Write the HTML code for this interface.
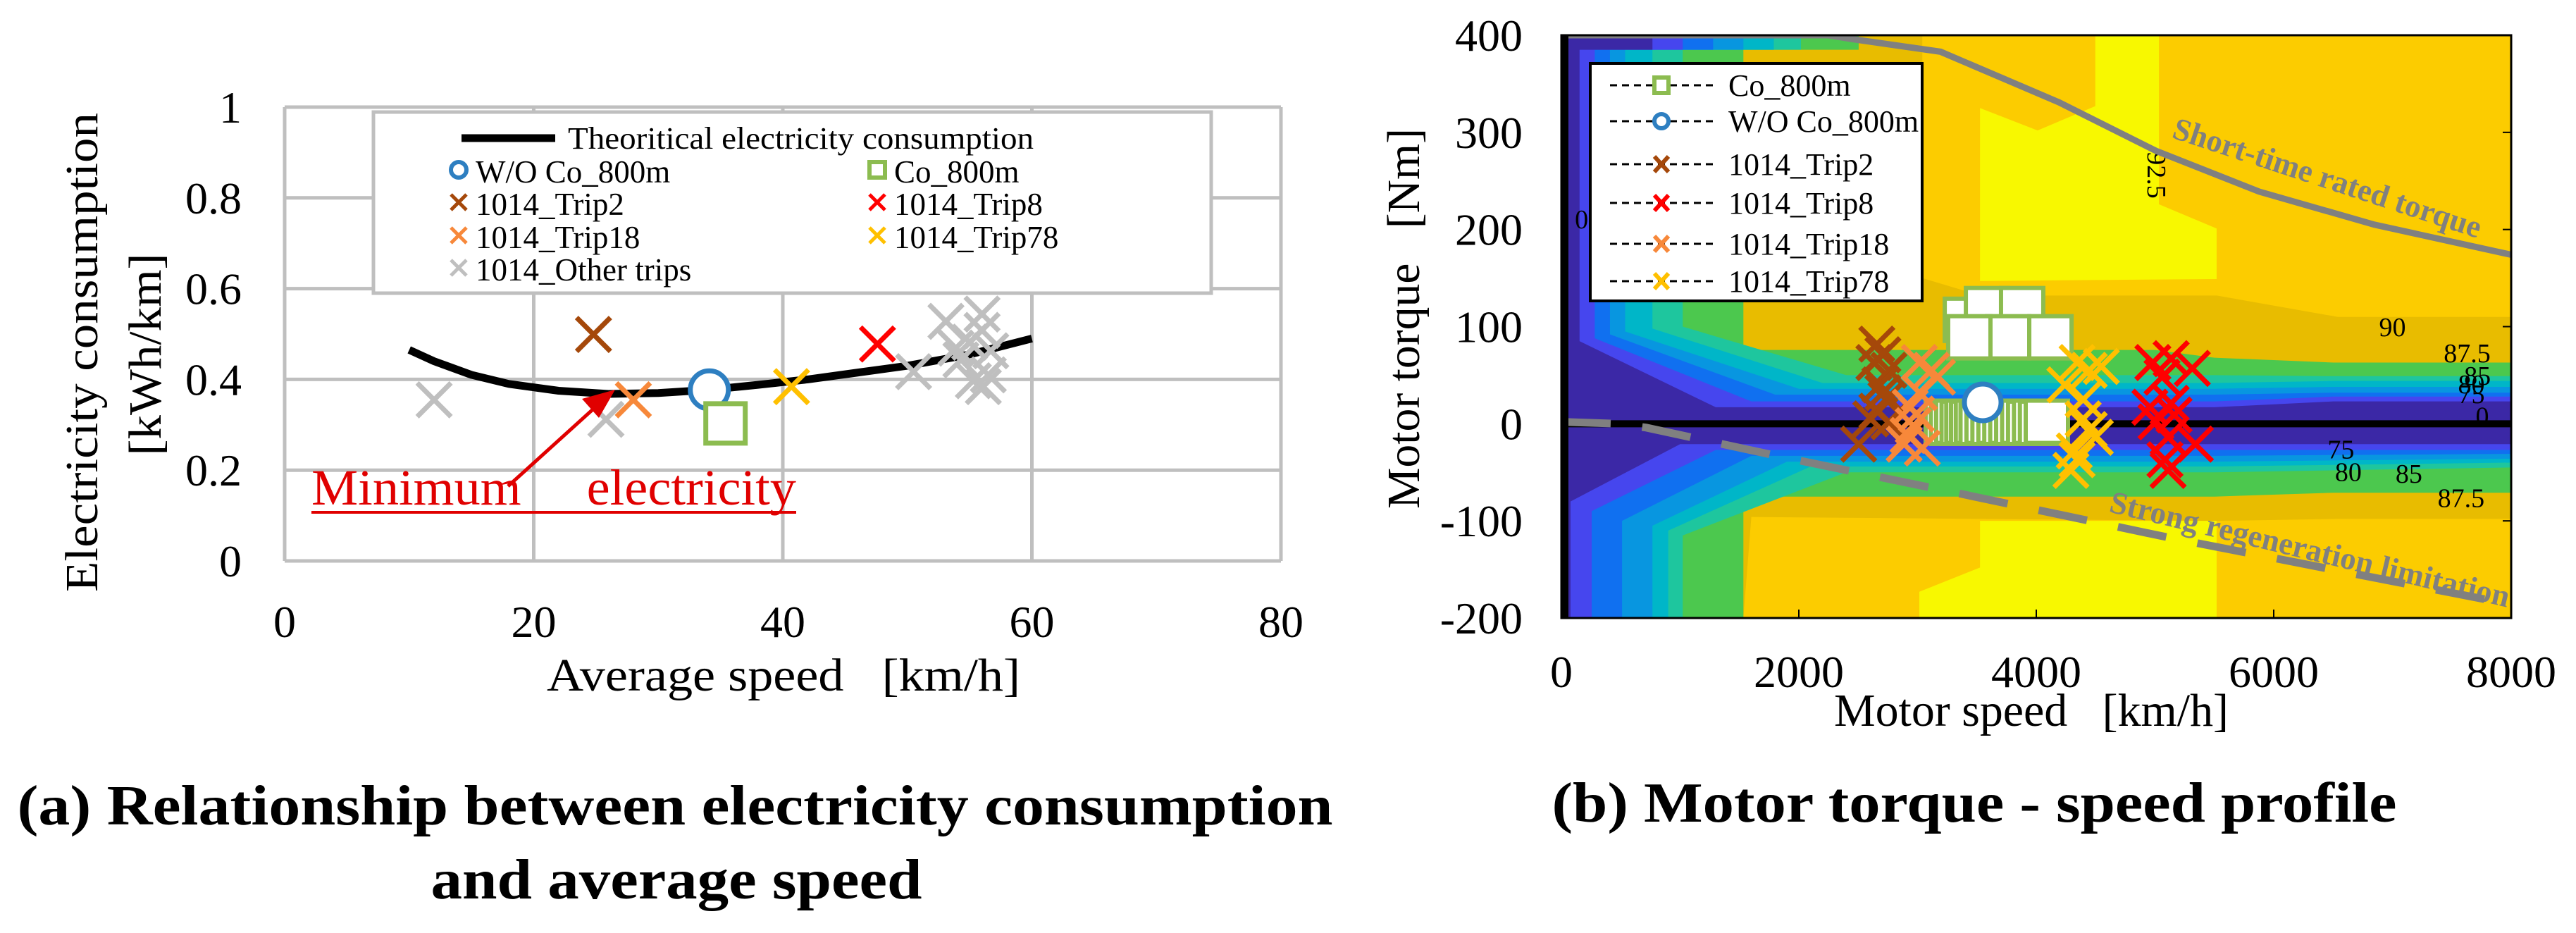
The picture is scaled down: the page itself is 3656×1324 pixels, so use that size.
<!DOCTYPE html>
<html><head><meta charset="utf-8"><style>
html,body{margin:0;padding:0;background:#fff;}
svg{display:block;font-family:"Liberation Serif",serif;}
svg text{font-family:"Liberation Serif",serif;}
</style></head><body>
<svg id="fig" width="3656" height="1324" viewBox="0 0 3656 1324" xmlns="http://www.w3.org/2000/svg" font-family="Liberation Serif, serif">
<defs><clipPath id="mapclip"><rect x="2216" y="50" width="1348" height="827"/></clipPath></defs>
<rect x="0" y="0" width="3656" height="1324" fill="#fff"/>
<g id="left"></g>
<g id="right">
  <g id="map" clip-path="url(#mapclip)"></g>
</g>
<text x="958" y="1170" font-size="80" font-weight="bold" text-anchor="middle" textLength="1867" lengthAdjust="spacingAndGlyphs">(a) Relationship between electricity consumption</text>
<text x="960" y="1275" font-size="80" font-weight="bold" text-anchor="middle" textLength="697" lengthAdjust="spacingAndGlyphs">and average speed</text>
<text x="2802" y="1166" font-size="80" font-weight="bold" text-anchor="middle" textLength="1199" lengthAdjust="spacingAndGlyphs">(b) Motor torque - speed profile</text>
<text x="1112" y="980" font-size="66" text-anchor="middle" textLength="672" lengthAdjust="spacingAndGlyphs" style="white-space:pre">Average speed   [km/h]</text>
<text transform="translate(138,500) rotate(-90)" font-size="66" text-anchor="middle" textLength="680" lengthAdjust="spacingAndGlyphs">Electricity consumption</text>
<text transform="translate(228,503) rotate(-90)" font-size="66" text-anchor="middle" textLength="287" lengthAdjust="spacingAndGlyphs">[kWh/km]</text>
<text x="2883" y="1030" font-size="66" text-anchor="middle" textLength="560" lengthAdjust="spacingAndGlyphs" style="white-space:pre">Motor speed   [km/h]</text>
<text transform="translate(2014,452) rotate(-90)" font-size="66" text-anchor="middle" textLength="540" lengthAdjust="spacingAndGlyphs" style="white-space:pre">Motor torque   [Nm]</text>
</svg>
<script>
const NS='http://www.w3.org/2000/svg';
// ---------- LEFT CHART DATA ----------
const speedTicks=[0,20,40,60,80];
const consTicks=[0,0.2,0.4,0.6,0.8,1];
const consTickLabels=['0','0.2','0.4','0.6','0.8','1'];
const curveSpeed=[10,12,15,18,22,26,30,34,38,42,46,50,55,60];
const curveCons=[0.465,0.44,0.41,0.39,0.375,0.368,0.370,0.377,0.388,0.40,0.415,0.43,0.455,0.49];
const woSpeed=[34.1]; const woCons=[0.377];
const coSpeed=[35.4]; const coCons=[0.303];
const trip2Speed=[24.8]; const trip2Cons=[0.499];
const trip8Speed=[47.6]; const trip8Cons=[0.478];
const trip18Speed=[28]; const trip18Cons=[0.355];
const trip78Speed=[40.7]; const trip78Cons=[0.384];
const otherSpeed=[12,25.8,50.5,53.1,56,55,54.3,56,55.3,56.5,56.1,53.9,56.7];
const otherCons=[0.355,0.312,0.417,0.528,0.544,0.482,0.443,0.508,0.397,0.41,0.384,0.469,0.463];
// ---------- RIGHT CHART DATA ----------
const rpmTicks=[0,2000,4000,6000,8000];
const torqueTicks=[400,300,200,100,0,-100,-200];
const levelColors=['#3b28a6','#4646ee','#1070f0','#0896e0','#00b6c8','#1ec69e','#4cc84e','#e8bc00'];
const bandUpper=[
 [[767,400],[767,385],[153,385],[153,85],[1300,17],[5500,17],[6500,23],[8000,23]],
 [[1022,400],[1022,385],[281,385],[281,88],[1600,23],[5500,23],[6500,28],[8000,28]],
 [[1278,400],[1278,385],[409,385],[409,92],[1800,30],[5500,30],[6500,32],[8000,32]],
 [[1533,400],[1533,385],[537,385],[537,95],[2000,36],[5500,36],[6500,38],[8000,38]],
 [[1789,400],[1789,385],[767,385],[767,98],[2200,42],[5500,42],[6500,44],[8000,44]],
 [[2018,400],[2018,385],[1022,385],[1022,100],[2400,50],[5500,50],[6500,49],[8000,49]],
 [[2504,400],[2504,385],[1533,385],[1533,76],[5000,76],[5500,68],[6500,63],[8000,63]],
 [[3040,400],[3040,150],[3530,132],[5520,132],[6540,110],[8000,110]]
];
const bandLower=[
 [[8000,-21],[5500,-21],[1000,-21],[77,-80],[77,-200]],
 [[8000,-27],[5500,-27],[1300,-27],[255,-90],[255,-200]],
 [[8000,-31],[5500,-33],[1600,-33],[511,-100],[511,-200]],
 [[8000,-36],[5500,-39],[1900,-39],[767,-105],[767,-200]],
 [[8000,-40],[5500,-44],[2100,-44],[900,-110],[900,-200]],
 [[8000,-45],[5500,-50],[2400,-50],[1022,-115],[1022,-200]],
 [[8000,-71],[6500,-71],[5500,-75],[1533,-75],[1533,-200]],
 [[8000,-98],[6540,-98],[5520,-100],[1600,-96],[1533,-200]]
];
const yellowTop=[[3526,325],[4011,302],[4497,327],[4497,400],[5033,400],[5033,226],[5519,201],[5519,149],[3526,147]];
const yellowBottom=[[3015,-200],[3015,-173],[3526,-148],[3526,-100],[5519,-100],[5519,-200]];
const ratedRpm=[0,2248,2453,3194,4190,5008,5877,6847,8000];
const ratedTorque=[400,400,396,383,331,281,239,205,174];
const regenRpm=[0,485,715,1890,3321,5110,8000];
const regenTorque=[2,0,-4,-35,-71,-117,-186];
const contourText=['90','87.5','85','80','75','0','75','80','85','87.5','92.5','0'];
const contourRpm=[7000,7629,7716,7665,7665,7757,6566,6628,7139,7578,5008,170];
const contourTorque=[99,72,49,40,30,7,-27,-50,-52,-77,256,210];
const coRpm=[3407,3585,3881,3763,4119,3436,3246,3290,3335,3380,3420,3460,3500,3540,3590,3640,3690,3740,3790,3840,3890,3940,3990,4040,4089];
const coTorque=[107,118,118,89,89,89,2,1,2,1,2,1,2,1,2,1,2,1,2,1,2,1,2,1,2];
const woRpm=[3549]; const woTorque=[22];
const t2Rpm=[2504,2657,2708,2632,2759,2683,2734,2657,2759,2606,2708];
const t2Torque=[-21,82,71,63,55,40,25,13,2,5,32];
const t18Rpm=[3015,3117,2938,3015,2964,2887,3040,3168,2990,2920];
const t18Torque=[63,55,17,32,-2,-21,-25,48,10,-12];
const t78Rpm=[4344,4446,4548,4241,4395,4446,4497,4344,4292,4395,4320];
const t78Torque=[63,55,59,40,25,-6,-14,-37,-48,5,-28];
const t8Rpm=[4982,5136,5314,5059,4957,5136,5008,5161,5110,5340,5084,5110];
const t8Torque=[63,67,57,48,17,21,2,9,-14,-21,-37,-48];

function el(tag,attrs,parent){const e=document.createElementNS(NS,tag);for(const k in attrs)e.setAttribute(k,attrs[k]);parent.appendChild(e);return e;}
const L=document.getElementById('left');
const R=document.getElementById('right');
const M=document.getElementById('map');
const lx=v=>404+v*(1818-404)/80;
const ly=v=>796-v*(796-152);
const rx=r=>2216+r*(3564-2216)/8000;
const ry=t=>50+(400-t)*(877-50)/600;

function xMark(parent,cx,cy,s,color,w,name){
  const p=el('path',{d:`M${cx-s},${cy-s}L${cx+s},${cy+s}M${cx+s},${cy-s}L${cx-s},${cy+s}`,stroke:color,'stroke-width':w,fill:'none'},parent);
  
  
  return p;
}
// ---------- LEFT ----------
speedTicks.forEach(v=>{
  const g=el('line',{x1:lx(v),x2:lx(v),y1:ly(1),y2:ly(0),stroke:'#bfbfbf','stroke-width':5},L);
  
  
  const t=el('text',{x:lx(v),y:904,'font-size':64,'text-anchor':'middle'},L);t.textContent=String(v);
  
  
});
consTicks.forEach((v,i)=>{
  const g=el('line',{x1:lx(0),x2:lx(80),y1:ly(v),y2:ly(v),stroke:'#bfbfbf','stroke-width':5},L);
  
  
  const t=el('text',{x:343,y:ly(v)+22,'font-size':64,'text-anchor':'end'},L);t.textContent=consTickLabels[i];
  
  
});
// legend
const lg=el('g',{},L);


const lb=el('rect',{x:530,y:159,width:1189,height:257,fill:'#fff',stroke:'#bfbfbf','stroke-width':5},lg);


const ll=el('line',{x1:655,x2:788,y1:196,y2:196,stroke:'#000','stroke-width':11},lg);


const lt=el('text',{x:806,y:211,'font-size':44,textLength:661,lengthAdjust:'spacingAndGlyphs'},lg);lt.textContent='Theoritical electricity consumption';


const legItems=[['W/O Co_800m','circle','#2e7fc1',651,245],['Co_800m','square','#8cbc50',1245,245],['1014_Trip2','x','#a5480a',651,291],['1014_Trip8','x','#ff0000',1245,291],['1014_Trip18','x','#f7883a',651,338],['1014_Trip78','x','#ffc000',1245,338],['1014_Other trips','x','#bfbfbf',651,384]];
legItems.forEach(it=>{
  const [lab,kind,col,mx,my]=it;
  let m;
  if(kind==='circle'){m=el('circle',{cx:mx,cy:my-4,r:11,fill:'#fff',stroke:col,'stroke-width':6},lg);}
  else if(kind==='square'){m=el('rect',{x:mx-11,y:my-15,width:22,height:22,fill:'#fff',stroke:col,'stroke-width':6},lg);}
  else{m=el('path',{d:`M${mx-11},${my-15}L${mx+11},${my+7}M${mx+11},${my-15}L${mx-11},${my+7}`,stroke:col,'stroke-width':5},lg);}
  
  
  const t=el('text',{x:mx+24,y:my+14,'font-size':45},lg);t.textContent=lab;
  
  
});
// curve
const cp=el('polyline',{points:curveSpeed.map((s,i)=>lx(s)+','+ly(curveCons[i])).join(' '),fill:'none',stroke:'#000','stroke-width':11,'stroke-linejoin':'round'},L);


otherSpeed.forEach((s,i)=>xMark(L,lx(s),ly(otherCons[i]),24,'#bfbfbf',7,'other-trip-point'));
trip2Speed.forEach((s,i)=>xMark(L,lx(s),ly(trip2Cons[i]),24,'#a5480a',7,'trip2-point'));
trip8Speed.forEach((s,i)=>xMark(L,lx(s),ly(trip8Cons[i]),24,'#ff0000',7,'trip8-point'));
trip18Speed.forEach((s,i)=>xMark(L,lx(s),ly(trip18Cons[i]),24,'#f7883a',7,'trip18-point'));
trip78Speed.forEach((s,i)=>xMark(L,lx(s),ly(trip78Cons[i]),24,'#ffc000',7,'trip78-point'));
woSpeed.forEach((s,i)=>{const c=el('circle',{cx:lx(s),cy:ly(woCons[i]),r:27,fill:'#fff',stroke:'#2e7fc1','stroke-width':7},L);
  
  });
coSpeed.forEach((s,i)=>{const c=el('rect',{x:lx(s)-28,y:ly(coCons[i])-28,width:56,height:56,fill:'#fff',stroke:'#8cbc50','stroke-width':7},L);
  
  });
// annotation
const ar=el('line',{x1:721,y1:690,x2:848,y2:575,stroke:'#e00000','stroke-width':5},L);


const ah=el('polygon',{points:'873,553 826,566 850,593',fill:'#e00000'},L);


const mt=el('text',{x:442,y:716,'font-size':72,fill:'#e00000',textLength:688,lengthAdjust:'spacingAndGlyphs',style:'white-space:pre'},L);mt.textContent='Minimum     electricity';


const ul=el('line',{x1:442,x2:1130,y1:727,y2:727,stroke:'#e00000','stroke-width':4},L);



// ---------- RIGHT ----------
const bg=el('rect',{x:2216,y:50,width:1348,height:827,fill:'#fccc00'},M);


[yellowTop,yellowBottom].forEach(poly=>{
  const p=el('polygon',{points:poly.map(q=>rx(q[0])+','+ry(q[1])).join(' '),fill:'#f8f800'},M);
  
  
});
for(let k=7;k>=0;k--){
  const pts=[[0,400]].concat(bandUpper[k],bandLower[k],[[0,-200]]);
  const p=el('polygon',{points:pts.map(q=>rx(q[0])+','+ry(q[1])).join(' '),fill:levelColors[k]},M);
  
  
}
contourText.forEach((s,i)=>{
  const x=rx(contourRpm[i]),y=ry(contourTorque[i])+12;
  const t=el('text',{x:x,y:y,'font-size':38,'text-anchor':'middle'},M);
  if(s==='92.5')t.setAttribute('transform',`rotate(90 ${x} ${y-12})`);
  t.textContent=s;
  
  
});
const zl=el('line',{x1:rx(0),x2:rx(8000),y1:ry(0),y2:ry(0),stroke:'#000','stroke-width':10},M);


const rl=el('polyline',{points:ratedRpm.map((r,i)=>rx(r)+','+ry(ratedTorque[i])).join(' '),fill:'none',stroke:'#808080','stroke-width':9},M);


const gl=el('polyline',{points:regenRpm.map((r,i)=>rx(r)+','+ry(regenTorque[i])).join(' '),fill:'none',stroke:'#808080','stroke-width':11,'stroke-dasharray':'70 45'},M);


// data markers
coRpm.forEach((r,i)=>{const c=el('rect',{x:rx(r)-30,y:ry(coTorque[i])-30,width:60,height:60,fill:'#fff',stroke:'#8cbc50','stroke-width':6},M);
  
  });
t2Rpm.forEach((r,i)=>xMark(M,rx(r),ry(t2Torque[i]),24,'#a5480a',7,'trip2-point'));
t18Rpm.forEach((r,i)=>xMark(M,rx(r),ry(t18Torque[i]),24,'#f7883a',7,'trip18-point'));
t78Rpm.forEach((r,i)=>xMark(M,rx(r),ry(t78Torque[i]),24,'#ffc000',7,'trip78-point'));
t8Rpm.forEach((r,i)=>xMark(M,rx(r),ry(t8Torque[i]),24,'#ff0000',7,'trip8-point'));
woRpm.forEach((r,i)=>{const c=el('circle',{cx:rx(r),cy:ry(woTorque[i]),r:26,fill:'#fff',stroke:'#2e7fc1','stroke-width':7},M);
  
  });
// gray line labels
const st=el('text',{x:3081,y:195,'font-size':45,'font-weight':'bold',fill:'#808080',textLength:458,lengthAdjust:'spacingAndGlyphs',transform:'rotate(18.2 3081 195)'},R);
st.textContent='Short-time rated torque';


const sr=el('text',{x:2992,y:726,'font-size':45,'font-weight':'bold',fill:'#808080',textLength:582,lengthAdjust:'spacingAndGlyphs',transform:'rotate(13.5 2992 726)'},R);
sr.textContent='Strong regeneration limitation';


// frame and axis
const fr=el('rect',{x:2216,y:50,width:1348,height:827,fill:'none',stroke:'#000','stroke-width':3},R);


const yb=el('line',{x1:2221,x2:2221,y1:50,y2:877,stroke:'#000','stroke-width':10},R);


rpmTicks.forEach(v=>{
  const tk=el('line',{x1:rx(v),x2:rx(v),y1:877,y2:865,stroke:'#000','stroke-width':2},R);
  
  
  const t=el('text',{x:rx(v),y:975,'font-size':64,'text-anchor':'middle'},R);t.textContent=String(v);
  
  
});
torqueTicks.forEach(v=>{
  const tk=el('line',{x1:3564,x2:3552,y1:ry(v),y2:ry(v),stroke:'#000','stroke-width':2},R);
  
  
  const t=el('text',{x:2161,y:ry(v)+22,'font-size':64,'text-anchor':'end'},R);t.textContent=String(v);
  
  
});
// right legend
const rg=el('g',{},R);


const rb=el('rect',{x:2257,y:90,width:471,height:337,fill:'#fff',stroke:'#000','stroke-width':4},rg);


const rItems=[['Co_800m','square','#8cbc50',121],['W/O Co_800m','circle','#2e7fc1',172],['1014_Trip2','x','#a5480a',233],['1014_Trip8','x','#ff0000',288],['1014_Trip18','x','#f7883a',346],['1014_Trip78','x','#ffc000',399]];
rItems.forEach(it=>{
  const [lab,kind,col,yy]=it;
  const dl=el('line',{x1:2285,x2:2436,y1:yy,y2:yy,stroke:'#000','stroke-width':3,'stroke-dasharray':'10 7'},rg);
  
  
  let m;
  if(kind==='circle'){m=el('circle',{cx:2358,cy:yy,r:10,fill:'#fff',stroke:col,'stroke-width':6},rg);}
  else if(kind==='square'){m=el('rect',{x:2348,y:yy-11,width:20,height:22,fill:'#fff',stroke:col,'stroke-width':6},rg);}
  else{m=el('path',{d:`M2348,${yy-11}L2368,${yy+11}M2368,${yy-11}L2348,${yy+11}`,stroke:col,'stroke-width':6},rg);}
  
  
  const t=el('text',{x:2453,y:yy+15,'font-size':44},rg);t.textContent=lab;
  
  
});
</script>
</body></html>
